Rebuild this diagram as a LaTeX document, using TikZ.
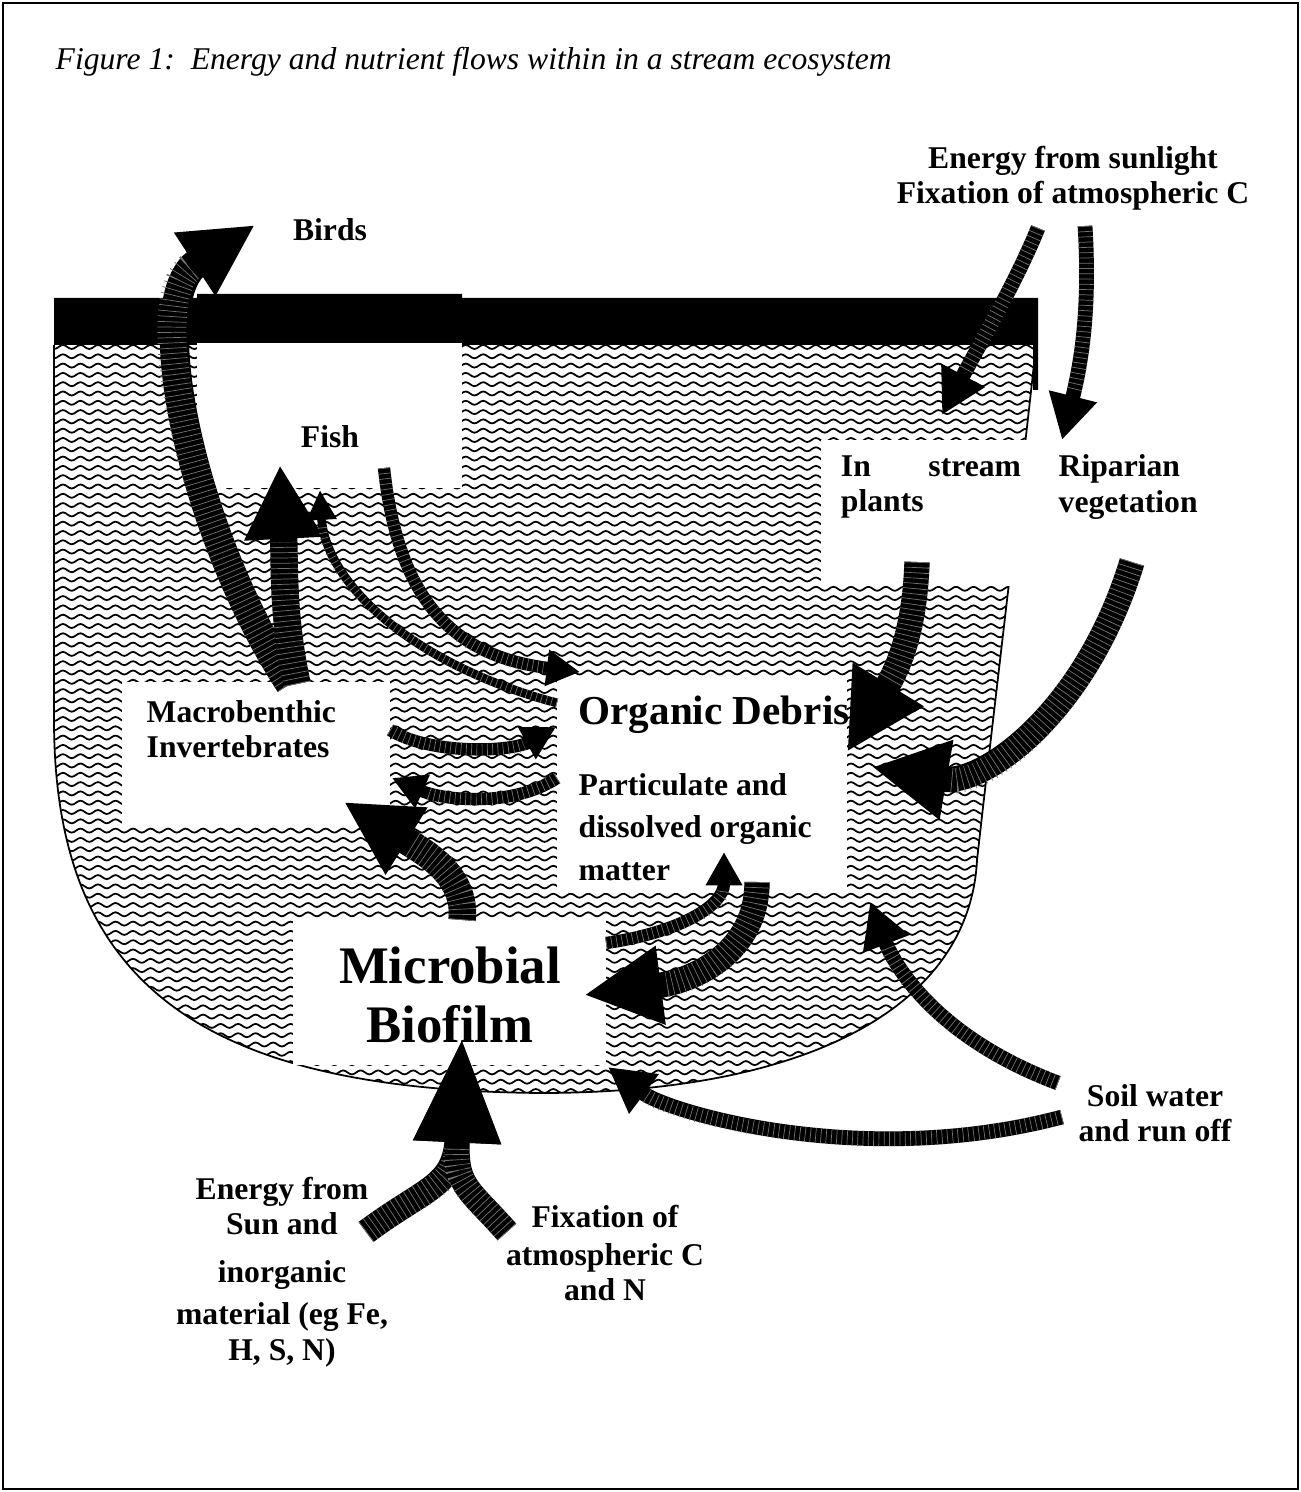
\documentclass[tikz,border=0pt]{standalone}
\usepackage{fontspec}
\setmainfont{Liberation Serif}
\usetikzlibrary{arrows.meta,decorations.pathmorphing}

\begin{document}
\begin{tikzpicture}[x=0.01cm, y=-0.01cm,
        wave/.style={decorate, decoration={snake, segment length=0.175cm, amplitude=0.02cm}, line width=0.5pt},
        wbox/.style={fill=white, inner sep=0pt},
        lbl/.style={font=\bfseries\fontsize{9}{10}\selectfont, inner sep=0pt},
        stripes/.style={postaction={draw=black!55, -, shorten >=#1, dash pattern=on 0.2pt off 1.3pt}},
        bigflow/.style={line width=7.8pt, -{Triangle[length=21pt,width=21pt]}, stripes=22pt},
        midflow/.style={line width=4.2pt, -{Triangle[length=12.8pt,width=13.2pt]}, stripes=13.8pt},
        smallflow/.style={line width=3.5pt, -{Triangle[length=9.5pt,width=9.8pt]}, stripes=10.5pt},
        thinflow/.style={line width=2.5pt, -{Triangle[length=8.5pt,width=8pt]}, stripes=9.5pt}
    ]
        \useasboundingbox (0,0) rectangle (1301,1492);
        \draw[line width=0.6pt] (3,3) rectangle (1298,1489);

        % Stream water
        \begin{scope}
            \clip (54,343) -- (54,720) .. controls (54,990) and (210,1090) .. (540,1093)
                .. controls (820,1093) and (970,1000) .. (977,860)
                .. controls (995,700) and (1025,450) .. (1036,343) -- cycle;
            \foreach \i in {0,...,81}
                \draw[wave] (40,{347+9.3*\i}) -- (1060,{347+9.3*\i});
        \end{scope}
        \draw[line width=0.5pt] (54,345) -- (54,720) .. controls (54,990) and (210,1090) .. (540,1093)
            .. controls (820,1093) and (970,1000) .. (977,860)
            .. controls (995,700) and (1025,450) .. (1036,345);

        % Surface
        \fill (54,298) -- (197,298) -- (197,294) -- (462,294) -- (462,298) -- (1038,298)
            -- (1038,390) -- (1033,390) -- (1033,345) -- (54,345) -- cycle;

        % Boxes
        \node[wbox, minimum width=2.65cm, minimum height=1.45cm] (fishbox) at (329.5,415.5) {};
        \node[wbox, minimum width=2.68cm, minimum height=1.44cm] (mbbox) at (256,754) {};
        \node[wbox, minimum width=2.90cm, minimum height=2.14cm] (debrisbox) at (702,786) {};
        \node[wbox, minimum width=3.13cm, minimum height=1.45cm] (mfbox) at (449.5,992.5) {};
        \node[wbox, minimum width=3.89cm, minimum height=1.46cm] (plantbox) at (1015.5,513) {};

        % Flow ends
        \coordinate (birdsout) at (290,684);  \coordinate (birdsin) at (255,225);
        \coordinate (mbup) at (297,684);      \coordinate (fishin1) at (280,465);
        \coordinate (fishout) at (384,468);   \coordinate (debrisin1) at (580,672);
        \coordinate (debrisout1) at (557,703); \coordinate (fishin2) at (320,490);
        \coordinate (mbout) at (390,730);     \coordinate (debrisin2) at (556,727);
        \coordinate (debrisout2) at (557,778); \coordinate (mbin1) at (392,778);
        \coordinate (mfout1) at (462,920);    \coordinate (mbin2) at (344,802);
        \coordinate (mfout2) at (606,943);    \coordinate (debrisin3) at (724,852);
        \coordinate (debrisout3) at (757,882); \coordinate (mfin1) at (584,995);
        \coordinate (plantsout) at (917,562); \coordinate (debrisin4) at (847,752);
        \coordinate (ripout) at (1132,562);   \coordinate (debrisin5) at (872,767);
        \coordinate (sunout1) at (1038,228);  \coordinate (plantsin) at (942,415);
        \coordinate (sunout2) at (1085,226);  \coordinate (ripin) at (1062,440);
        \coordinate (soilout1) at (1058,1083); \coordinate (debrisin6) at (870,902);
        \coordinate (soilout2) at (1062,1117); \coordinate (mfin2) at (608,1067);
        \coordinate (sunout3) at (366,1232);  \coordinate (fixout) at (507,1232);
        \coordinate (mfin3) at (462,1037);

        % Flows
        \draw[line width=8.3pt, -{Triangle[length=20.5pt,width=20pt]}, stripes=21.5pt]
            (birdsout) .. controls +(-95,-144) and +(-115,75) .. (birdsin);
        \draw[bigflow] (mbup) .. controls +(-15,-70) and +(5,100) .. (fishin1);
        \draw[smallflow] (fishout) .. controls +(15,140) and +(-120,-15) .. (debrisin1);
        \draw[thinflow] (debrisout1) .. controls +(-150,-40) and +(5,90) .. (fishin2);
        \draw[smallflow] (mbout) .. controls +(40,25) and +(-45,25) .. (debrisin2);
        \draw[smallflow] (debrisout2) .. controls +(-45,30) and +(50,22) .. (mbin1);
        \draw[bigflow] (mfout1) .. controls +(5,-45) and +(80,50) .. (mbin2);
        \draw[smallflow] (mfout2) .. controls +(70,-10) and +(0,55) .. (debrisin3);
        \draw[line width=7.2pt, -{Triangle[length=22pt,width=21pt]}, stripes=23pt]
            (debrisout3) .. controls +(0,70) and +(110,-14) .. (mfin1);
        \draw[line width=7.2pt, -{Triangle[length=22.5pt,width=22pt]}, stripes=23.5pt]
            (plantsout) .. controls +(-2,60) and +(55,-90) .. (debrisin4);
        \draw[line width=7.2pt, -{Triangle[length=21.5pt,width=21.5pt]}, stripes=22.5pt]
            (ripout) .. controls +(-47,153) and +(110,19) .. (debrisin5);
        \draw[midflow] (sunout1) .. controls +(-20,50) and +(40,-75) .. (plantsin);
        \draw[midflow] (sunout2) .. controls +(5,80) and +(20,-80) .. (ripin);
        \draw[midflow] (soilout1) .. controls +(-120,-45) and +(25,65) .. (debrisin6);
        \draw[midflow] (soilout2) .. controls +(-200,53) and +(60,45) .. (mfin2);
        \draw[line width=7.1pt, -{Triangle[length=30pt,width=22.8pt]}, stripes=31pt]
            (sunout3) .. controls +(60,-45) and +(-7,150) .. (mfin3);
        \draw[line width=7.1pt, -{Triangle[length=30pt,width=22.8pt]}, stripes=31pt]
            (fixout) .. controls +(-40,-45) and +(-7,150) .. (mfin3);

        % Labels
        \node[anchor=west, inner sep=0pt, font=\itshape\fontsize{9}{11}\selectfont] (title) at (55,62)
            {Figure 1:\ \ Energy and nutrient flows within in a stream ecosystem};
        \node[lbl, align=center] (sun) at (1073,178) {Energy from sunlight\\Fixation of atmospheric C};
        \node[lbl] (birds) at (330,230) {Birds};
        \node[lbl] (fish) at (330,437) {Fish};
        \node[lbl, text width=1.8cm, align=left] (plants) at (931,487) {In\hfill stream\\plants};
        \node[lbl, anchor=west, align=left] (riparian) at (1058,487) {Riparian\\vegetation};
        \node[lbl, anchor=west, align=left] (mb) at (146,729) {Macrobenthic\\Invertebrates};
        \node[lbl, font=\bfseries\fontsize{11.7}{13}\selectfont] (debris) at (714,715) {Organic Debris};
        \node[lbl, anchor=west, align=left, font=\bfseries\fontsize{9}{12}\selectfont] (pom) at (578,827)
            {Particulate and\\dissolved organic\\matter};
        \node[lbl, align=center, font=\bfseries\fontsize{15}{17}\selectfont] (mf) at (450,995) {Microbial\\Biofilm};
        \node[lbl, align=center] (soil) at (1155,1113) {Soil water\\and run off};
        \node[lbl, align=center] (suninorg) at (282,1272)
            {Energy from\\Sun and\\[3.7pt]inorganic\\[2pt]material (eg Fe,\\H, S, N)};
        \node[lbl, align=center] (fix) at (605,1253) {Fixation of\\[1pt]atmospheric C\\and N};
\end{tikzpicture}
\end{document}
